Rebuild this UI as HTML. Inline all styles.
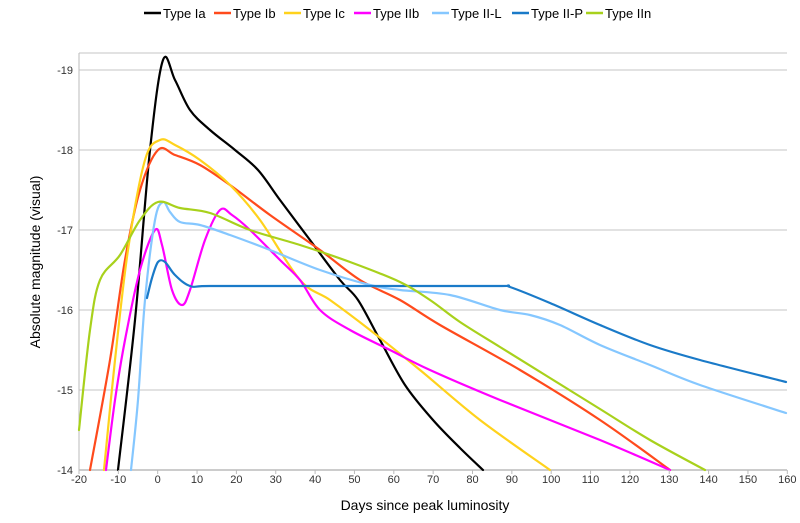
<!DOCTYPE html>
<html><head><meta charset="utf-8"><style>
body{margin:0;background:#fff}
svg text{font-family:"Liberation Sans",Arial,sans-serif}
</style></head><body>
<svg id="s" width="800" height="518" xmlns="http://www.w3.org/2000/svg">
<g stroke="#d9d9d9" stroke-width="1.5">
<line x1="79" y1="53" x2="787" y2="53"/>
<line x1="79" y1="70" x2="787" y2="70"/>
<line x1="79" y1="150" x2="787" y2="150"/>
<line x1="79" y1="230" x2="787" y2="230"/>
<line x1="79" y1="310" x2="787" y2="310"/>
<line x1="79" y1="390" x2="787" y2="390"/>
</g>
<line x1="79" y1="53" x2="79" y2="470" stroke="#bbb" stroke-width="1"/>
<line x1="79" y1="470" x2="787" y2="470" stroke="#bbb" stroke-width="1.5"/>
<g font-size="11" fill="#333" text-anchor="end">
<text x="73" y="74">-19</text><text x="73" y="154">-18</text><text x="73" y="234">-17</text>
<text x="73" y="314">-16</text><text x="73" y="394">-15</text><text x="73" y="474">-14</text>
</g>
<g id="xt" font-size="11" fill="#333" text-anchor="middle"></g>
<g id="lines" fill="none" stroke-width="2.2" stroke-linejoin="round" stroke-linecap="round"></g>
<text x="425" y="510" font-size="14" text-anchor="middle" fill="#000">Days since peak luminosity</text>
<text transform="translate(40,262) rotate(-90)" font-size="14" text-anchor="middle" fill="#000">Absolute magnitude (visual)</text>
<g id="leg" font-size="13" fill="#000"></g>
</svg>
<script>
var NS="http://www.w3.org/2000/svg";
function el(t,a,p,txt){var e=document.createElementNS(NS,t);for(var k in a)e.setAttribute(k,a[k]);if(txt!=null)e.textContent=txt;p.appendChild(e);return e;}
var xt=document.getElementById('xt');
for(var d=-20;d<=160;d+=10){var x=157.7+3.935*d;el('text',{x:x,y:483},xt,String(d));el('line',{x1:x,y1:470,x2:x,y2:474,stroke:'#bbb'},document.getElementById('s'));}
var S=[
["#000",[[118,470],[135,320],[150,150],[163,60],[175,80],[190,110],[210,130],[235,150],[258,170],[280,200],[310,240],[340,280],[358,300],[380,340],[405,385],[433,420],[460,448],[483,470]]],
["#ff4a1c",[[90,470],[110,360],[125,260],[140,190],[158,150],[175,155],[200,165],[230,185],[270,215],[320,250],[360,280],[400,300],[440,325],[520,370],[600,420],[670,470]]],
["#ffd21c",[[104,470],[115,360],[128,250],[145,160],[160,140],[175,145],[200,160],[230,185],[260,220],[300,280],[330,300],[370,330],[420,370],[480,420],[550,470]]],
["#ff00ff",[[106,470],[115,400],[125,340],[140,270],[155,230],[162,245],[172,290],[182,305],[190,290],[205,240],[220,210],[232,215],[250,230],[280,260],[300,280],[320,310],[350,330],[390,350],[430,370],[500,400],[600,440],[670,470]]],
["#85c7ff",[[131,470],[138,400],[145,300],[155,220],[163,202],[170,212],[180,222],[200,225],[230,235],[270,250],[320,270],[370,285],[400,290],[450,295],[500,310],[530,315],[560,325],[600,345],[650,365],[700,385],[786,413]]],
["#1a7ac8",[[147,298],[152,278],[158,262],[165,262],[175,275],[190,286],[210,286],[300,286],[400,286],[500,286],[510,287],[550,303],[600,325],[650,345],[700,360],[786,382]]],
["#a8d11c",[[79,430],[90,330],[100,280],[120,255],[140,220],[158,202],[180,208],[210,213],[250,230],[300,245],[350,262],[400,282],[430,300],[460,322],[500,347],[550,378],[600,409],[650,440],[705,470]]]
];
var g=document.getElementById('lines');
S.forEach(function(s){var p=s[1],d="M"+p[0][0]+","+p[0][1];
for(var i=0;i<p.length-1;i++){var p0=p[Math.max(0,i-1)],p1=p[i],p2=p[i+1],p3=p[Math.min(p.length-1,i+2)];
d+=" C"+(p1[0]+(p2[0]-p0[0])/6)+","+(p1[1]+(p2[1]-p0[1])/6)+" "+(p2[0]-(p3[0]-p1[0])/6)+","+(p2[1]-(p3[1]-p1[1])/6)+" "+p2[0]+","+p2[1];}
el('path',{d:d,stroke:s[0]},g);});
var L=[["Type Ia",163],["Type Ib",233],["Type Ic",303],["Type IIb",373],["Type II-L",451],["Type II-P",531],["Type IIn",605]];
var lg=document.getElementById('leg');
L.forEach(function(l,i){el('line',{x1:l[1]-19,y1:13,x2:l[1]-2,y2:13,stroke:S[i][0],'stroke-width':2.5},lg);el('text',{x:l[1],y:18},lg,l[0]);});
</script>
</body></html>
